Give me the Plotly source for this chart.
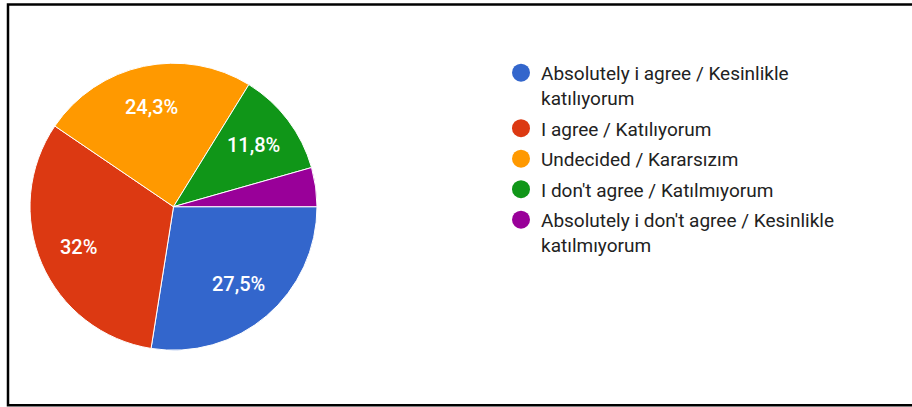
import math
import plotly.graph_objects as go

W, H = 912, 407

categories = [
    "Absolutely i agree / Kesinlikle<br>katılıyorum",
    "I agree / Katılıyorum",
    "Undecided / Kararsızım",
    "I don't agree / Katılmıyorum",
    "Absolutely i don't agree / Kesinlikle<br>katılmıyorum",
]
values = [27.5, 32.0, 24.3, 11.8, 4.4]
slice_labels = ["27,5%", "32%", "24,3%", "11,8%", ""]
colors = ["#3366cc", "#dc3912", "#ff9900", "#109618", "#990099"]

FONT = "Roboto, Arial, sans-serif"

def px_x(x):
    return x / W

def px_y(y):
    return 1 - y / H

# pie placement (pixels)
CX, CY, R = 173.5, 206.7, 143.5

fig = go.Figure()
fig.add_trace(go.Pie(
    labels=categories,
    values=values,
    textinfo="none",
    marker=dict(colors=colors, line=dict(color="white", width=1)),
    sort=False,
    direction="clockwise",
    rotation=90,
    showlegend=False,
    hoverinfo="label+percent",
    domain=dict(x=[px_x(CX - R), px_x(CX + R)], y=[px_y(CY + R), px_y(CY - R)]),
))

shapes = []
annotations = []

# slice percentage labels, placed at the mid-angle of each slice
total = sum(values)
cum = 0.0
for v, t in zip(values, slice_labels):
    mid = (cum + v / 2) / total * 2 * math.pi  # clockwise from 3 o'clock
    cum += v
    if not t:
        continue
    rr = 0.71 * R
    lx = CX + rr * math.cos(mid)
    ly = CY + rr * math.sin(mid)
    annotations.append(dict(xref="paper", yref="paper", x=px_x(lx - 1), y=px_y(ly),
                            xanchor="center", yanchor="middle", text=t, showarrow=False,
                            font=dict(family=FONT, size=20, color="white", weight=500)))

# frame
shapes.append(dict(type="rect", xref="paper", yref="paper",
                   x0=px_x(8), x1=1.02, y0=px_y(405.2), y1=px_y(4.5),
                   line=dict(color="black", width=2.5), fillcolor="rgba(0,0,0,0)"))

# custom legend
y = 72.7
for lab, col in zip(categories, colors):
    r = 9
    shapes.append(dict(type="circle", xref="paper", yref="paper",
                       x0=px_x(521 - r), x1=px_x(521 + r),
                       y0=px_y(y + r), y1=px_y(y - r),
                       fillcolor=col, line=dict(width=0)))
    annotations.append(dict(xref="paper", yref="paper", x=px_x(539), y=px_y(y - 12.5),
                            xanchor="left", yanchor="top", align="left",
                            text=lab, showarrow=False,
                            font=dict(family=FONT, size=19, color="#222222")))
    nlines = lab.count("<br>") + 1
    y += 30.5 + 25 * (nlines - 1)

fig.update_layout(
    width=W, height=H,
    margin=dict(l=0, r=0, t=0, b=0),
    paper_bgcolor="white",
    plot_bgcolor="white",
    shapes=shapes,
    annotations=annotations,
)

fig.write_html("out.html", config={"displayModeBar": False},
               post_script="document.body.style.margin='0';document.body.style.overflow='hidden';")
